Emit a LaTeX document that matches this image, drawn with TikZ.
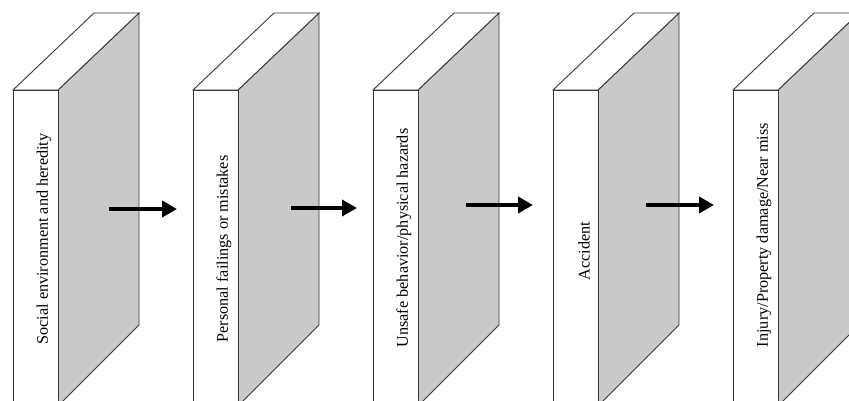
\documentclass[tikz,border=0pt]{standalone}
\usepackage{fontspec}
\setmainfont{Liberation Serif}
\usetikzlibrary{arrows.meta}
\definecolor{sidegray}{RGB}{201,201,201}
\definecolor{edgegray}{RGB}{55,55,55}
\tikzset{
  face/.style={draw=edgegray, line width=0.9pt, line join=miter},
  frontface/.style={face, fill=white},
  sideface/.style={face, fill=sidegray},
  topface/.style={face, fill=white},
  label/.style={rotate=90, font=\fontsize{16.2}{19}\selectfont, inner sep=0pt},
  flow/.style={line width=4.6pt, -{Triangle[length=15pt,width=16pt]}}
}
\begin{document}
\begin{tikzpicture}[x=1pt,y=-1pt]
\useasboundingbox (0,0) rectangle (849,400);
\clip (0,0) rectangle (849,400);
\foreach \i/\L in {1/13,2/193,3/373,4/553,5/733}{
  \draw[sideface] (\L+45,90) -- (\L+126,13) -- (\L+126,325) -- (\L+45,406) -- cycle;
  \draw[topface] (\L,90) -- (\L+81,13) -- (\L+126,13) -- (\L+45,90) -- cycle;
  \draw[frontface] (\L,90) rectangle (\L+45,406);
}
\node[label] (d1) at (44,239) {Social environment and heredity};
\node[label] (d2) at (224,249) {Personal failings or mistakes};
\node[label] (d3) at (404,238) {Unsafe behavior/physical hazards};
\node[label] (d4) at (584,251) {Accident};
\node[label] (d5) at (764,235) {Injury/Property damage/Near miss};
\coordinate (a1s) at (109,209); \coordinate (a1e) at (177,209);
\coordinate (a2s) at (291,208); \coordinate (a2e) at (357,208);
\coordinate (a3s) at (466,205); \coordinate (a3e) at (533,205);
\coordinate (a4s) at (646,205); \coordinate (a4e) at (714,205);
\draw[flow] (a1s) -- (a1e);
\draw[flow] (a2s) -- (a2e);
\draw[flow] (a3s) -- (a3e);
\draw[flow] (a4s) -- (a4e);
\end{tikzpicture}
\end{document}
